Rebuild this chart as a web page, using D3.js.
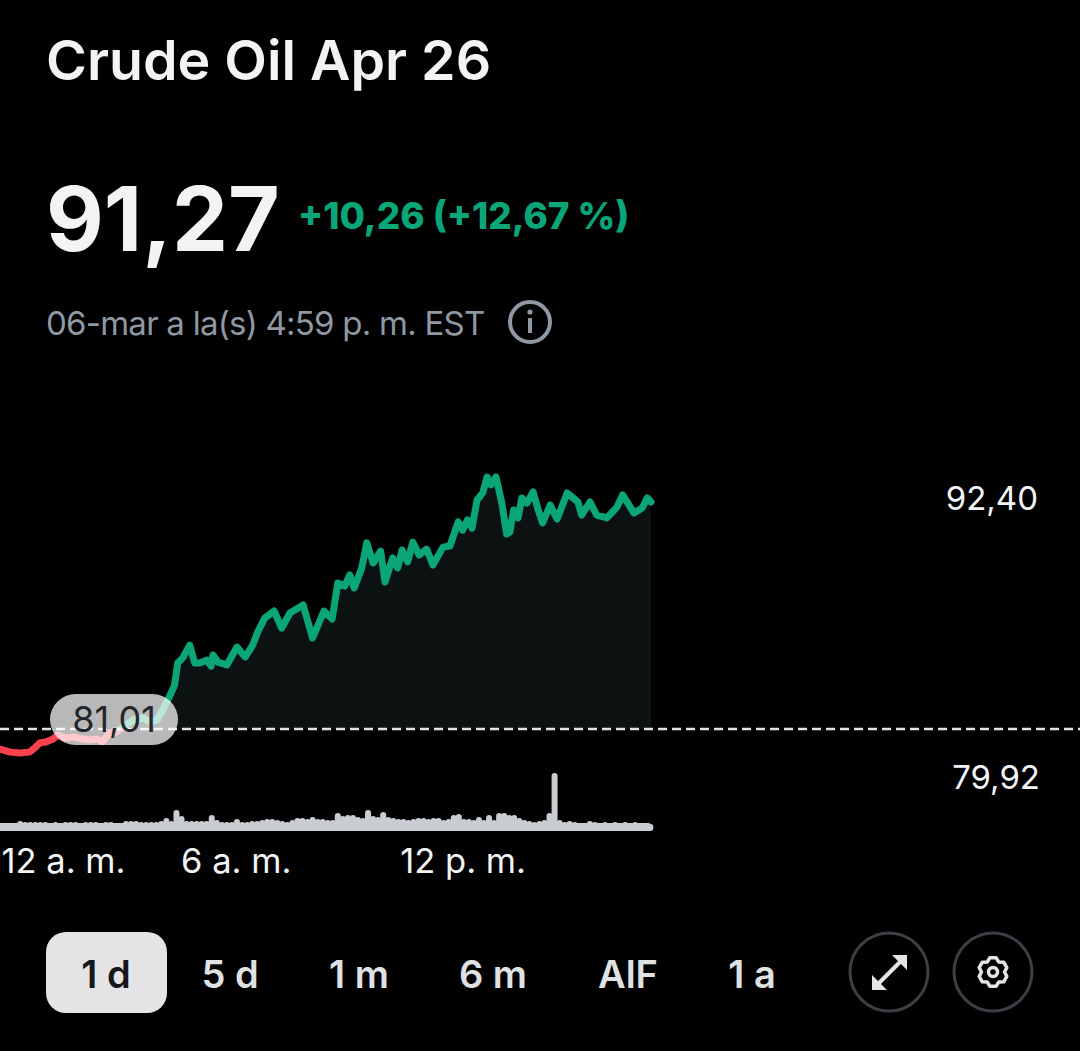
<!DOCTYPE html>
<html>
<head>
<meta charset="utf-8">
<script src="https://cdn.jsdelivr.net/npm/d3@7"></script>
<style>
  html, body { margin: 0; background: #000; }
  text { font-family: Inter, "Noto Sans", sans-serif; }
</style>
</head>
<body>
<svg id="chart" width="1080" height="1051"></svg>
<script>
// crude oil intraday card

var title = "Crude Oil Apr 26",
    lastPrice = "91,27",
    change = "+10,26 (+12,67 %)",
    stamp = "06-mar a la(s) 4:59 p. m. EST",
    prevClose = 81.01,
    prevCloseLabel = "81,01",
    highPrice = 92.40,
    lowPrice = 79.92,
    highLabel = "92,40",
    lowLabel = "79,92";

// minutes after midnight
var minutes = [-14,2,17,33,41,49,60,70,78,89,105,117,129,140,149,160,171,197,213,224,235,244,256,263,268,276,287,295,303,314,321,324,332,346,362,375,387,395,406,421,433,446,467,482,500,513,522,533,541,548,560,568,578,590,597,609,617,624,633,641,651,663,673,689,700,713,720,728,735,743,752,759,765,773,782,790,795,801,808,814,822,832,840,847,859,870,886,903,909,922,933,949,965,974,992,1005,1013,1019];
var prices = [80.10,79.96,79.92,79.96,80.15,80.37,80.43,80.55,80.73,80.60,80.64,80.55,80.51,80.55,80.43,80.84,80.88,81.41,81.50,81.33,81.41,81.86,82.54,82.99,83.99,84.22,84.80,83.99,83.99,84.12,83.85,84.35,84.03,83.90,84.71,84.26,84.80,85.39,86.02,86.34,85.57,86.25,86.61,85.12,86.34,85.98,87.61,87.47,87.97,87.38,88.29,89.42,88.51,89.05,87.65,88.74,88.29,89.10,88.56,89.46,88.87,89.14,88.42,89.23,89.28,90.37,90.00,90.46,90.09,91.36,91.68,92.40,92.04,92.40,91.27,89.82,89.91,90.91,90.55,91.45,91.22,91.72,90.91,90.32,91.13,90.50,91.68,91.27,90.68,91.27,90.68,90.55,91.04,91.59,90.77,91.00,91.45,91.27];

// one volume bar every 8 minutes, relative height
var volumeStart = -14, volumeStep = 8;
var volumes = [1,2,2,2,4,3,3,3,3,3,2,3,2,3,3,3,2,3,3,3,2,3,3,2,2,4,4,4,3,3,3,3,4,7,4,15,9,4,4,4,4,4,10,5,3,3,3,6,3,3,4,4,5,6,6,5,4,3,5,7,7,6,8,6,6,5,5,12,9,10,10,8,7,15,9,8,13,8,7,6,6,5,6,7,7,6,7,7,5,6,10,11,6,6,5,8,5,10,5,12,12,10,10,7,5,4,3,4,5,12,52,5,3,4,3,2,2,4,3,2,3,2,3,2,3,2,3,2,2,1];

var tickMinutes = [0,360,720],
    tickLabels = ["12 a. m.","6 a. m.","12 p. m."];

var tabs = ["1 d","5 d","1 m","6 m","AlF","1 a"],
    tabCentres = [106,230,359,493,628,752];

var green = "#0ba678", red = "#f9414e", white = "#f2f3f4", grey = "#8f98a3";

var svg = d3.select("#chart");

var x = d3.scaleLinear().domain([-14, 1019]).range([0, 651]);
var y = d3.scaleLinear().domain([lowPrice, highPrice]).range([753, 477]);
var v = d3.scaleLinear().domain([0, 52]).range([828, 776]);

var points = minutes.map(function(m, i) { return {m: m, p: prices[i]}; });
var bars = volumes.map(function(h, i) { return {m: volumeStart + i * volumeStep, h: h}; });

function addText(str, px, py, size, weight, fill, anchor) {
  return svg.append("text")
    .attr("x", px).attr("y", py)
    .attr("font-size", size).attr("font-weight", weight)
    .attr("fill", fill).attr("text-anchor", anchor || "start")
    .text(str);
}

// header
addText(title, 46, 80, 55.5, 600, white);
addText(lastPrice, 46, 251, 89, 700, white);
addText(change, 298, 229, 36.8, 800, green);
addText(stamp, 46, 335, 33, 400, grey).attr("letter-spacing", -0.75);

var info = svg.append("g").attr("transform", "translate(530,322)");
info.append("circle").attr("r", 20).attr("fill", "none").attr("stroke", grey).attr("stroke-width", 4);
info.append("rect").attr("x", -2).attr("y", -4).attr("width", 4).attr("height", 15).attr("fill", grey);
info.append("circle").attr("cy", -10).attr("r", 2.6).attr("fill", grey);

// chart marks
var defs = svg.append("defs");
defs.append("clipPath").attr("id", "above").append("rect")
  .attr("x", 0).attr("y", 0).attr("width", 1080).attr("height", y(prevClose));
defs.append("clipPath").attr("id", "below").append("rect")
  .attr("x", 0).attr("y", y(prevClose)).attr("width", 1080).attr("height", 400);

var area = d3.area().x(function(d) { return x(d.m); }).y0(y(prevClose)).y1(function(d) { return y(d.p); });
var line = d3.line().x(function(d) { return x(d.m); }).y(function(d) { return y(d.p); });

svg.append("path").datum(points)
  .attr("clip-path", "url(#above)")
  .attr("d", area)
  .attr("fill", "#0c1212");

[["above", green], ["below", red]].forEach(function(part) {
  svg.append("path").datum(points)
    .attr("clip-path", "url(#" + part[0] + ")")
    .attr("d", line)
    .attr("fill", "none")
    .attr("stroke", part[1])
    .attr("stroke-width", 7)
    .attr("stroke-linejoin", "round")
    .attr("stroke-linecap", "round");
});

svg.append("line")
  .attr("x1", 0).attr("x2", 1080)
  .attr("y1", y(prevClose)).attr("y2", y(prevClose))
  .attr("stroke", "#e4e4e4").attr("stroke-width", 2.5)
  .attr("stroke-dasharray", "9,5");

// volume: solid foot plus one rounded bar per step
svg.append("line")
  .attr("x1", x(-14)).attr("x2", x(1014))
  .attr("y1", v(1)).attr("y2", v(1))
  .attr("stroke", "#c9cdd2").attr("stroke-width", 8)
  .attr("stroke-linecap", "round");

svg.selectAll(".vol").data(bars).enter().append("line")
  .attr("class", "vol")
  .attr("x1", function(d) { return x(d.m); })
  .attr("x2", function(d) { return x(d.m); })
  .attr("y1", v(0))
  .attr("y2", function(d) { return v(d.h); })
  .attr("stroke", "#c9cdd2")
  .attr("stroke-width", 6)
  .attr("stroke-linecap", "round");

// previous close pill
svg.append("rect")
  .attr("x", 50).attr("y", 694).attr("width", 128).attr("height", 51).attr("rx", 25.5)
  .attr("fill", "#fff").attr("fill-opacity", 0.72);
addText(prevCloseLabel, 114, 732, 36, 400, "#22262a", "middle");

// right hand range labels
addText(highLabel, 1038, 510, 33, 400, white, "end");
addText(lowLabel, 1040, 789, 33, 400, white, "end");

// time axis
var axis = d3.axisBottom(x)
  .tickValues(tickMinutes)
  .tickFormat(function(d, i) { return tickLabels[i]; })
  .tickSize(0);

var axisG = svg.append("g").attr("transform", "translate(0,845)").call(axis);
axisG.select(".domain").remove();
axisG.selectAll("text")
  .attr("font-size", 34.5).attr("fill", white)
  .style("font-family", "Inter, 'Noto Sans', sans-serif")
  .attr("dy", "0.71em")
  .each(function(d) {
    var w = this.getComputedTextLength(), left = x(d) - w / 2;
    if (left < 1) d3.select(this).attr("x", 1 - left);
  });

// range tabs
svg.append("rect")
  .attr("x", 46).attr("y", 932).attr("width", 121).attr("height", 81).attr("rx", 20)
  .attr("fill", "#e4e4e6");
tabs.forEach(function(t, i) {
  addText(t, tabCentres[i], 988, 38, 600, i === 0 ? "#15181b" : "#dfe1e3", "middle");
});

// round buttons
var buttons = [889, 993];
buttons.forEach(function(cx) {
  svg.append("circle").attr("cx", cx).attr("cy", 972).attr("r", 39)
    .attr("fill", "none").attr("stroke", "#3b4046").attr("stroke-width", 3);
});

var expand = svg.append("g").attr("transform", "translate(889.5,972.5)").attr("fill", "#e4e4e6");
expand.append("path").attr("d", "M2.5,-17.5 L17.5,-17.5 L17.5,-2.5 Z M-17.5,2.5 L-2.5,17.5 L-17.5,17.5 Z");
expand.append("line").attr("x1", -11).attr("y1", 11).attr("x2", 11).attr("y2", -11)
  .attr("stroke", "#e4e4e6").attr("stroke-width", 4);

var gear = svg.append("g").attr("transform", "translate(993,972)");
gear.append("path")
  .attr("d", d3.range(6).map(function(i) {
    var a = i * Math.PI / 3 - Math.PI / 2, s = Math.PI / 9;
    var p = [[11.5, a - 2.1 * s / 1.4], [14.5, a - s / 1.6], [14.5, a + s / 1.6], [11.5, a + 2.1 * s / 1.4]];
    return p.map(function(q, j) {
      return (i === 0 && j === 0 ? "M" : "L") + (q[0] * Math.cos(q[1])).toFixed(1) + "," + (q[0] * Math.sin(q[1])).toFixed(1);
    }).join(" ");
  }).join(" ") + " Z")
  .attr("fill", "none").attr("stroke", "#e4e4e6").attr("stroke-width", 3.5).attr("stroke-linejoin", "round");
gear.append("circle").attr("r", 4.5).attr("fill", "none").attr("stroke", "#e4e4e6").attr("stroke-width", 3.5);
</script>
</body>
</html>
